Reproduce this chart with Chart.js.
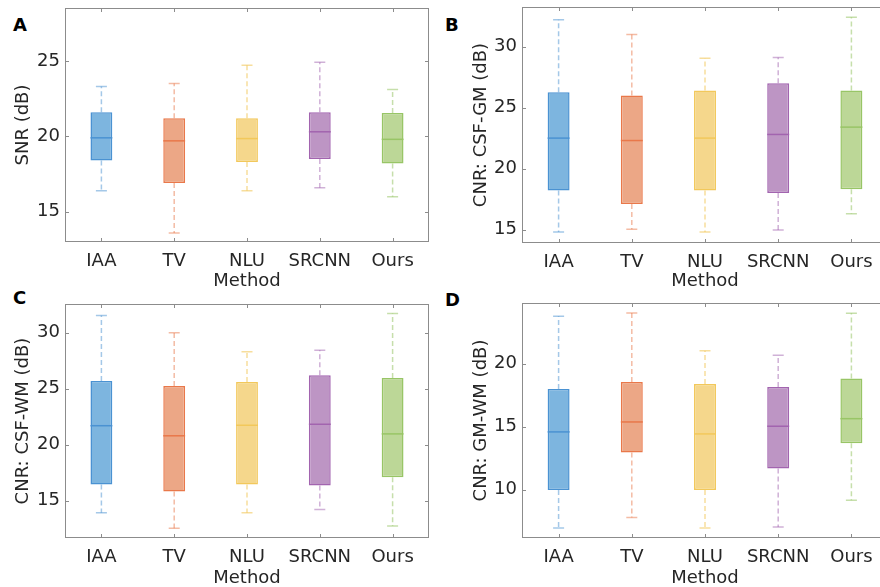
<!DOCTYPE html>
<html><head><meta charset="utf-8">
<script src="https://cdn.jsdelivr.net/npm/chart.js@4/dist/chart.umd.min.js"></script>
<style>
html,body{margin:0;padding:0;background:#fff;width:880px;height:587px;overflow:hidden;position:relative;}
canvas{position:absolute;}
.lbl{position:absolute;font:bold 18px 'DejaVu Sans';line-height:18px;color:#000;}
</style></head><body>
<div class="lbl" style="left:13px;top:16px">A</div>
<div class="lbl" style="left:445px;top:16px">B</div>
<div class="lbl" style="left:13px;top:289px">C</div>
<div class="lbl" style="left:445px;top:291px">D</div>
<canvas id="cA" width="440" height="295" style="left:0;top:0"></canvas>
<canvas id="cB" width="450" height="295" style="left:440px;top:0"></canvas>
<canvas id="cC" width="440" height="295" style="left:0;top:292px"></canvas>
<canvas id="cD" width="450" height="295" style="left:440px;top:292px"></canvas>
<script>
// ---- data ----
const methods = ['IAA','TV','NLU','SRCNN','Ours'];

const snrMin = [16.4, 13.6, 16.4, 16.6, 16.0];
const snrQ1  = [18.4, 16.9, 18.3, 18.5, 18.2];
const snrMed = [19.9, 19.7, 19.85, 20.3, 19.8];
const snrQ3  = [21.6, 21.2, 21.2, 21.6, 21.55];
const snrMax = [23.3, 23.5, 24.7, 24.9, 23.1];
const snrTicks = [15, 20, 25];

const cgMin = [14.8, 15.03, 14.8, 14.97, 16.3];
const cgQ1  = [18.2, 17.1, 18.2, 18.0, 18.3];
const cgMed = [22.5, 22.3, 22.5, 22.8, 23.4];
const cgQ3  = [26.26, 26.0, 26.4, 27.0, 26.4];
const cgMax = [32.2, 31.0, 29.05, 29.1, 32.4];
const cgTicks = [15, 20, 25, 30];

const cwMin = [13.93, 12.56, 13.93, 14.22, 12.74];
const cwQ1  = [16.45, 15.83, 16.45, 16.36, 17.1];
const cwMed = [21.7, 20.8, 21.74, 21.83, 20.97];
const cwQ3  = [25.7, 25.25, 25.6, 26.2, 25.96];
const cwMax = [31.54, 30.0, 28.3, 28.43, 31.72];
const cwTicks = [15, 20, 25, 30];

const gwMin = [6.96, 7.78, 6.96, 7.04, 9.15];
const gwQ1  = [9.97, 12.94, 9.97, 11.67, 13.68];
const gwMed = [14.58, 15.37, 14.42, 15.03, 15.63];
const gwQ3  = [17.99, 18.55, 18.39, 18.15, 18.81];
const gwMax = [23.76, 24.02, 21.03, 20.66, 23.99];
const gwTicks = [10, 15, 20];

// ---- styles ----
const fillColors   = ['#7db5df','#eca786','#f5d78c','#bd95c4','#bcd797'];
const borderColors = ['#4a92d2','#e9784a','#f2c85b','#a264af','#98c566'];
const whiskColors  = ['rgba(74,146,210,0.5)','rgba(233,120,74,0.5)','rgba(242,200,91,0.6)','rgba(162,100,175,0.5)','rgba(152,197,102,0.55)'];
const frameColor = '#8c8c8c';
const textColor = '#262626';
Chart.defaults.font.family = "'DejaVu Sans'";
Chart.defaults.color = textColor;

const boxPlugin = {
  id: 'boxplot',
  beforeDatasetsDraw(chart) {
    const {ctx} = chart; const y = chart.scales.y;
    const st = chart.config.options.plugins.boxplot;
    const meta = chart.getDatasetMeta(0);
    ctx.save();
    meta.data.forEach((bar, i) => {
      const x = bar.x;
      ctx.strokeStyle = whiskColors[i];
      ctx.lineWidth = 1.5;
      ctx.setLineDash([5, 3]);
      ctx.beginPath();
      ctx.moveTo(x, y.getPixelForValue(st.q3[i])); ctx.lineTo(x, y.getPixelForValue(st.max[i]));
      ctx.moveTo(x, y.getPixelForValue(st.q1[i])); ctx.lineTo(x, y.getPixelForValue(st.min[i]));
      ctx.stroke();
      ctx.setLineDash([]);
      ctx.beginPath();
      const cw = 5.5;
      ctx.moveTo(x - cw, y.getPixelForValue(st.max[i])); ctx.lineTo(x + cw, y.getPixelForValue(st.max[i]));
      ctx.moveTo(x - cw, y.getPixelForValue(st.min[i])); ctx.lineTo(x + cw, y.getPixelForValue(st.min[i]));
      ctx.stroke();
    });
    ctx.restore();
  },
  afterDatasetsDraw(chart) {
    const {ctx, chartArea: a} = chart; const y = chart.scales.y; const xs = chart.scales.x;
    const st = chart.config.options.plugins.boxplot;
    const meta = chart.getDatasetMeta(0);
    ctx.save();
    meta.data.forEach((bar, i) => {
      const py = y.getPixelForValue(st.med[i]);
      ctx.strokeStyle = borderColors[i];
      ctx.lineWidth = 1.5;
      ctx.beginPath();
      ctx.moveTo(bar.x - bar.width / 2, py); ctx.lineTo(bar.x + bar.width / 2, py);
      ctx.stroke();
    });
    // frame
    ctx.strokeStyle = frameColor; ctx.lineWidth = 1;
    ctx.strokeRect(a.left + 0.5, a.top + 0.5, a.right - a.left - 1, a.bottom - a.top - 1);
    const tl = 4;
    ctx.beginPath();
    y.ticks.forEach(t => {
      const py = Math.round(y.getPixelForValue(t.value)) + 0.5;
      ctx.moveTo(a.left, py); ctx.lineTo(a.left + tl, py);
      ctx.moveTo(a.right, py); ctx.lineTo(a.right - tl, py);
    });
    xs.ticks.forEach((t, i) => {
      const px = Math.round(xs.getPixelForTick(i)) + 0.5;
      ctx.moveTo(px, a.bottom); ctx.lineTo(px, a.bottom - tl);
      ctx.moveTo(px, a.top); ctx.lineTo(px, a.top + tl);
    });
    ctx.stroke();
    ctx.restore();
  }
};

function makePanel(id, cw, ch, area, yTitle, yMin, yMax, yTicks, stats, yTitlePad, xTitlePad) {
  new Chart(document.getElementById(id), {
    type: 'bar',
    data: {
      labels: methods,
      datasets: [{
        data: stats.q1.map((v, i) => [v, stats.q3[i]]),
        backgroundColor: fillColors,
        borderColor: borderColors,
        borderWidth: 1.5,
        borderSkipped: false,
        barPercentage: 0.3,
        categoryPercentage: 1.0
      }]
    },
    plugins: [boxPlugin],
    options: {
      responsive: false,
      animation: false,
      layout: {padding: {left: 0, top: area.t, right: cw - area.r, bottom: 0}},
      plugins: {legend: {display: false}, tooltip: {enabled: false}, boxplot: stats},
      scales: {
        x: {
          offset: true,
          grid: {display: false, drawTicks: false, tickLength: 0},
          border: {display: false},
          ticks: {font: {size: 18}, color: textColor, padding: 9, maxRotation: 0},
          title: {display: true, text: 'Method', font: {size: 18}, color: textColor, padding: {top: 0, bottom: xTitlePad}},
          afterFit(s) { s.height = ch - area.b; s.paddingLeft = 0; s.paddingRight = 0; s.paddingTop = 0; s.paddingBottom = 0; }
        },
        y: {
          min: yMin, max: yMax,
          grid: {display: false, drawTicks: false, tickLength: 0},
          border: {display: false},
          afterBuildTicks(s) { s.ticks = yTicks.map(v => ({value: v})); },
          ticks: {font: {size: 18}, color: textColor, padding: 5},
          title: {display: true, text: yTitle, font: {size: 18}, color: textColor, padding: {top: yTitlePad, bottom: 0}},
          afterFit(s) { s.width = area.l; s.paddingLeft = 0; s.paddingRight = 0; s.paddingTop = 0; s.paddingBottom = 0; }
        }
      }
    }
  });
}

makePanel('cA', 440, 295, {l: 65, t: 8, r: 429, b: 242}, 'SNR (dB)', 13.0, 28.5, snrTicks,
  {min: snrMin, q1: snrQ1, med: snrMed, q3: snrQ3, max: snrMax}, 12.5, 2.5);
makePanel('cB', 450, 295, {l: 82, t: 7, r: 448, b: 243}, 'CNR: CSF-GM (dB)', 13.9, 33.25, cgTicks,
  {min: cgMin, q1: cgQ1, med: cgMed, q3: cgQ3, max: cgMax}, 30.5, 2.5);
makePanel('cC', 440, 295, {l: 65, t: 12, r: 429, b: 246}, 'CNR: CSF-WM (dB)', 11.68, 32.56, cwTicks,
  {min: cwMin, q1: cwQ1, med: cwMed, q3: cwQ3, max: cwMax}, 12.5, -2.5);
makePanel('cD', 450, 295, {l: 82, t: 11, r: 448, b: 246}, 'CNR: GM-WM (dB)', 6.16, 24.81, gwTicks,
  {min: gwMin, q1: gwQ1, med: gwMed, q3: gwQ3, max: gwMax}, 30.5, -2.5);
</script>
</body></html>
